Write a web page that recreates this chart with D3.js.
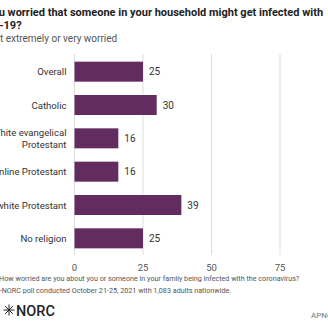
<!DOCTYPE html>
<html>
<head>
<meta charset="utf-8">
<script src="https://cdn.jsdelivr.net/npm/d3@7"></script>
<style>
  body { margin: 0; background: #fff; overflow: hidden; }
  svg { font-family: Roboto, "Noto Sans", sans-serif; display: block; }
</style>
</head>
<body>
<svg id="chart" width="328" height="328"></svg>
<script>
// data
const categories = ["Overall", "Catholic", "White evangelical|Protestant", "Mainline Protestant", "Non-white Protestant", "No religion"];
const values = [25, 30, 16, 16, 39, 25];
const xTicks = [0, 25, 50, 75, 100];

const width = 328, height = 328;
const svg = d3.select("#chart");

// scales
const x = d3.scaleLinear().domain([0, 100]).range([74.5, 348.5]);
const y = d3.scaleBand()
  .domain(categories)
  .range([55, 255])
  .paddingInner(0.4)
  .paddingOuter(0.2);

// title (cropped on the left like the reference)
svg.append("text")
  .attr("x", -33).attr("y", 16)
  .style("font-size", "11px").style("font-weight", "bold").style("fill", "#222")
  .text("Are you worried that someone in your household might get infected with");
svg.append("text")
  .attr("x", -33).attr("y", 29)
  .style("font-size", "11px").style("font-weight", "bold").style("fill", "#222")
  .text("COVID-19?");
svg.append("text")
  .attr("x", -31).attr("y", 42)
  .style("font-size", "10px").style("fill", "#555")
  .text("Percent extremely or very worried");

// gridlines
svg.append("g")
  .selectAll("line")
  .data(xTicks)
  .join("line")
  .attr("x1", d => x(d)).attr("x2", d => x(d))
  .attr("y1", 54).attr("y2", 255)
  .style("stroke", "#ddd")
  .style("stroke-width", 1);

// x axis labels
svg.append("g")
  .selectAll("text")
  .data(xTicks)
  .join("text")
  .attr("x", d => x(d))
  .attr("y", 271)
  .attr("text-anchor", "middle")
  .style("font-size", "9.5px")
  .style("fill", "#555")
  .text(d => d);

// bars
svg.append("g")
  .selectAll("rect")
  .data(categories)
  .join("rect")
  .attr("x", x(0))
  .attr("y", d => y(d))
  .attr("width", (d, i) => x(values[i]) - x(0))
  .attr("height", y.bandwidth())
  .style("fill", "#632c60");

// value labels
svg.append("g")
  .selectAll("text")
  .data(categories)
  .join("text")
  .attr("x", (d, i) => x(values[i]) + 6)
  .attr("y", d => y(d) + y.bandwidth() / 2 + 3.5)
  .style("font-size", "10px")
  .style("fill", "#333")
  .text((d, i) => values[i]);

// category labels
const catLabels = svg.append("g")
  .selectAll("text")
  .data(categories)
  .join("text")
  .attr("x", 66.5)
  .attr("text-anchor", "end")
  .style("font-size", "9.6px")
  .style("fill", "#333");

catLabels.each(function (d) {
  const lines = d.split("|");
  const cy = y(d) + y.bandwidth() / 2;
  const lh = 11.5;
  const start = cy + 3.5 - (lines.length - 1) * lh / 2;
  d3.select(this)
    .selectAll("tspan")
    .data(lines)
    .join("tspan")
    .attr("x", 66.5)
    .attr("y", (l, i) => start + i * lh)
    .text(l => l);
});

// notes
svg.append("text")
  .attr("x", -33).attr("y", 280.5)
  .style("font-size", "7.2px").style("fill", "#555")
  .text("Question: How worried are you about you or someone in your family being infected with the coronavirus?");
svg.append("text")
  .attr("x", -35.3).attr("y", 292.5)
  .style("font-size", "7.2px").style("fill", "#555")
  .text("Source: AP-NORC poll conducted October 21-25, 2021 with 1,083 adults nationwide.");

// logo
const logo = svg.append("g").attr("transform", "translate(9,310)");
d3.range(4).forEach(k => {
  const a = k * Math.PI / 4;
  logo.append("line")
    .attr("x1", -5.5 * Math.cos(a)).attr("y1", -5.5 * Math.sin(a))
    .attr("x2", 5.5 * Math.cos(a)).attr("y2", 5.5 * Math.sin(a))
    .style("stroke", "#222").style("stroke-width", 1);
});
svg.append("text")
  .attr("x", 16).attr("y", 315.5)
  .style("font-size", "14.5px").style("font-weight", "500").style("fill", "#222")
  .text("NORC");
svg.append("text")
  .attr("x", 311).attr("y", 318)
  .style("font-size", "8px").style("fill", "#777")
  .text("APNORC.org");
</script>
</body>
</html>
